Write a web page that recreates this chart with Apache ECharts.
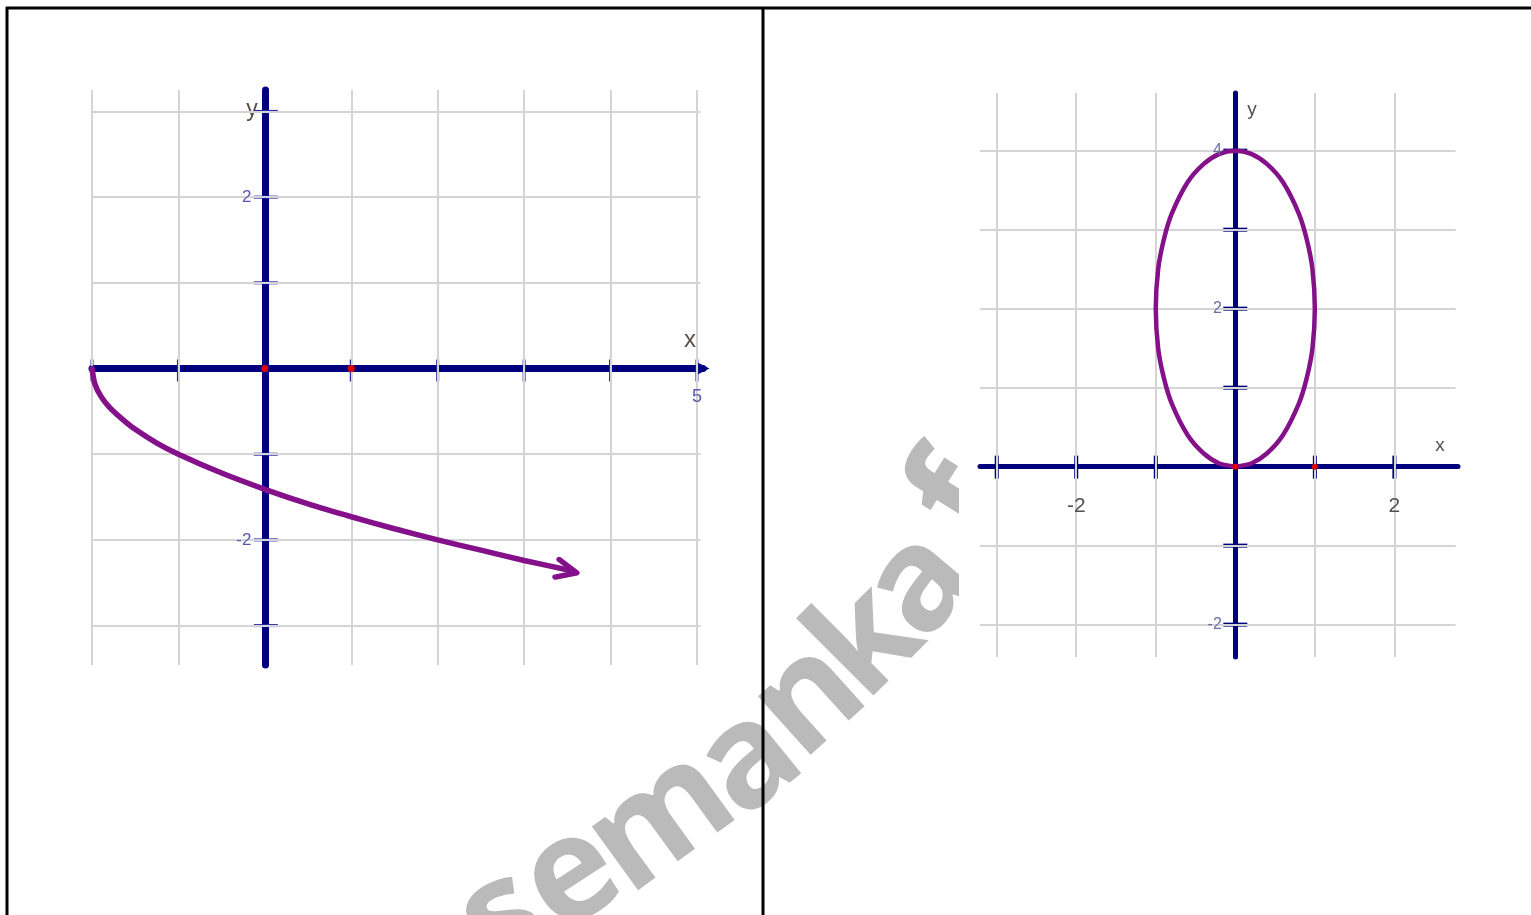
<!DOCTYPE html>
<html><head><meta charset="utf-8">
<script src="https://cdn.jsdelivr.net/npm/echarts@6/dist/echarts.min.js"></script>
<style>html,body{margin:0;padding:0;background:#fff;overflow:hidden}#c{width:1531px;height:915px}</style>
</head><body><div id="c"></div><script>
// ---------- Left chart: values ----------
const leftXGrid = [-2, -1, 1, 2, 3, 4, 5];
const leftYGrid = [-3, -2, -1, 1, 2, 3];
const leftXTicks = [-2, -1, 1, 2, 3, 4, 5];
const leftYTicks = [-3, -2, -1, 1, 2, 3];
const leftXLabels = [5];
const leftYLabels = [-2, 2];
const leftCurve = [
  [-2, 0], [-1.97, -0.17], [-1.9, -0.32], [-1.8, -0.45], [-1.65, -0.59], [-1.5, -0.71],
  [-1.25, -0.87], [-1, -1], [-0.5, -1.22], [0, -1.41], [0.5, -1.58], [1, -1.73],
  [1.5, -1.87], [2, -2], [2.5, -2.12], [3, -2.24], [3.55, -2.36]
];
const leftArrowTip = [[3.6, -2.37]];
const leftPoints = [[0, 0], [1, 0]];

// ---------- Right chart: values ----------
const rightXGrid = [-3, -2, -1, 1, 2];
const rightYGrid = [-2, -1, 1, 2, 3, 4];
const rightXTicks = [-3, -2, -1, 1, 2];
const rightYTicks = [-2, -1, 1, 2, 3, 4];
const rightXLabels = [-2, 2];
const rightYLabels = [-2, 2, 4];
const rightCurve = [
  [0, 0], [0.2, 0.04], [0.4, 0.17], [0.6, 0.4], [0.8, 0.8], [0.9, 1.13], [0.97, 1.5],
  [1, 2], [0.97, 2.5], [0.9, 2.87], [0.8, 3.2], [0.6, 3.6], [0.4, 3.83], [0.2, 3.96],
  [0, 4], [-0.2, 3.96], [-0.4, 3.83], [-0.6, 3.6], [-0.8, 3.2], [-0.9, 2.87], [-0.97, 2.5],
  [-1, 2], [-0.97, 1.5], [-0.9, 1.13], [-0.8, 0.8], [-0.6, 0.4], [-0.4, 0.17], [-0.2, 0.04], [0, 0]
];
const rightPoints = [[0, 0], [1, 0]];

// axis extents
const L = { xMin: -2, xMax: 5.07, yMin: -3.46, yMax: 3.25 };
const R = { xMin: -3.21, xMax: 2.8, yMin: -2.41, yMax: 4.73 };

const NAVY = '#00007f', PURPLE = '#84108a', GRID = '#d4d4d4';
const FONT = 'Liberation Sans, Arial, sans-serif';

function gridLines(xs, ys, r) {
  const d = [];
  xs.forEach(x => d.push([{ coord: [x, r.yMin] }, { coord: [x, r.yMax] }]));
  ys.forEach(y => d.push([{ coord: [r.xMin, y] }, { coord: [r.xMax - 0.03, y] }]));
  return d;
}

const chart = echarts.init(document.getElementById('c'), null, { renderer: 'canvas' });

function xAx(gi, r, lineW, arrow, name, nameOpt) {
  return {
    gridIndex: gi, type: 'value', min: r.xMin, max: r.xMax, z: 3,
    axisLine: { onZero: true, symbol: arrow ? ['none', 'triangle'] : ['none', 'none'], symbolSize: [13, 13],
      lineStyle: { color: NAVY, width: lineW } },
    axisTick: { show: false }, splitLine: { show: false }, axisLabel: { show: false },
    name: name, nameLocation: 'end', nameGap: nameOpt.gap, nameTextStyle: nameOpt.style
  };
}
function yAx(gi, r, lineW, name, nameOpt) {
  return {
    gridIndex: gi, type: 'value', min: r.yMin, max: r.yMax, z: 3,
    axisLine: { onZero: true, lineStyle: { color: NAVY, width: lineW, cap: 'round' } },
    axisTick: { show: false }, splitLine: { show: false }, axisLabel: { show: false },
    name: name, nameLocation: 'end', nameGap: nameOpt.gap, nameTextStyle: nameOpt.style
  };
}
function labelSeries(gi, data, pos, dist, color, size) {
  return { type: 'scatter', xAxisIndex: gi, yAxisIndex: gi, data: data, symbolSize: 1, z: 7, silent: true,
    itemStyle: { color: 'rgba(0,0,0,0)', opacity: 1 },
    label: { show: true, position: pos, distance: dist, color: color, fontSize: size, fontFamily: FONT, opacity: 1,
      formatter: p => String(pos === 'left' ? p.value[1] : p.value[0]) } };
}
// ticks crossing the axis, drawn with custom series at data positions
function tickSeries(gi, data, horizontal, before, after, width, color) {
  return { type: 'custom', xAxisIndex: gi, yAxisIndex: gi, data: data, z: 4, silent: true, clip: false,
    renderItem: function (params, api) {
      const p = api.coord([api.value(0), api.value(1)]);
      const shape = horizontal
        ? { x1: p[0] - before, y1: p[1], x2: p[0] + after, y2: p[1] }
        : { x1: p[0], y1: p[1] - before, x2: p[0], y2: p[1] + after };
      return { type: 'line', shape: shape, style: { stroke: color, lineWidth: width, opacity: 1 } };
    } };
}

// watermark letters (decoration)
const wm = [
  ['s', 503, 920, 30], ['e', 572, 878, 33], ['m', 662, 822, 36], ['a', 750, 762, 39],
  ['n', 810, 700, 42], ['k', 868, 643, 45], ['a', 921, 585, 50], ['f', 962, 500, 58]
];
const graphics = [];
wm.forEach(w => graphics.push({
  type: 'text', x: w[1], y: w[2], rotation: w[3] * Math.PI / 180, z: -10, silent: true,
  style: { text: w[0], fill: '#bababa', font: 'bold 144px "Open Sans", sans-serif', align: 'center', verticalAlign: 'middle' }
}));
graphics.push({ type: 'rect', z: -5, silent: true, shape: { x: 959, y: 40, width: 540, height: 660 }, style: { fill: '#ffffff' } });
graphics.push({ type: 'line', z: 10, silent: true, shape: { x1: 6, y1: 8, x2: 1531, y2: 8 }, style: { stroke: '#000', lineWidth: 3 } });
graphics.push({ type: 'line', z: 10, silent: true, shape: { x1: 7, y1: 7, x2: 7, y2: 915 }, style: { stroke: '#000', lineWidth: 3 } });
graphics.push({ type: 'line', z: 10, silent: true, shape: { x1: 763, y1: 7, x2: 763, y2: 915 }, style: { stroke: '#000', lineWidth: 3 } });

const option = {
  backgroundColor: '#ffffff',
  animation: false,
  graphic: { elements: graphics },
  grid: [
    { left: 92, top: 90, width: 611, height: 575, containLabel: false, outerBoundsMode: 'none' },
    { left: 980, top: 93, width: 478, height: 564, containLabel: false, outerBoundsMode: 'none' }
  ],
  xAxis: [
    xAx(0, L, 7, true, 'x',
      { gap: -13, style: { color: '#5a5048', fontSize: 24, align: 'center', verticalAlign: 'bottom', padding: [0, 0, 16, 0], fontFamily: FONT } }),
    xAx(1, R, 5, false, 'x',
      { gap: -18, style: { color: '#505050', fontSize: 19, align: 'center', verticalAlign: 'bottom', padding: [0, 0, 11, 0], fontFamily: FONT } })
  ],
  yAxis: [
    yAx(0, L, 7, 'y',
      { gap: -20, style: { color: '#5a5048', fontSize: 23, align: 'right', verticalAlign: 'middle', padding: [0, 7, 0, 0], fontFamily: FONT } }),
    yAx(1, R, 5, 'y',
      { gap: -17, style: { color: '#505050', fontSize: 19, align: 'left', verticalAlign: 'middle', padding: [0, 0, 0, 12], fontFamily: FONT } })
  ],
  series: [
    // grid lines
    { type: 'scatter', xAxisIndex: 0, yAxisIndex: 0, data: [[0, 0]], symbolSize: 0, z: 1, silent: true,
      markLine: { silent: true, symbol: ['none', 'none'], label: { show: false }, animation: false,
        lineStyle: { type: 'solid', color: GRID, width: 2, opacity: 1 }, emphasis: { disabled: true }, data: gridLines(leftXGrid, leftYGrid, L) } },
    { type: 'scatter', xAxisIndex: 1, yAxisIndex: 1, data: [[0, 0]], symbolSize: 0, z: 1, silent: true,
      markLine: { silent: true, symbol: ['none', 'none'], label: { show: false }, animation: false,
        lineStyle: { type: 'solid', color: GRID, width: 2, opacity: 1 }, emphasis: { disabled: true }, data: gridLines(rightXGrid, rightYGrid, R) } },
    // axis ticks (cross marks)
    tickSeries(0, leftYTicks.map(v => [0, v]), true, 11, 13, 3, '#2a2a9c'),
    tickSeries(0, leftXTicks.map(v => [v, 0]), false, 9, 13, 3, '#2a2a9c'),
    tickSeries(1, rightYTicks.map(v => [0, v]), true, 12, 12, 4, NAVY),
    tickSeries(1, rightXTicks.map(v => [v, 0]), false, 11, 12, 4, NAVY),
    // tick labels
    labelSeries(0, leftYLabels.map(v => [0, v]), 'left', 13, '#5858b0', 17),
    labelSeries(0, leftXLabels.map(v => [v, 0]), 'bottom', 19, '#5858b0', 18),
    labelSeries(1, rightYLabels.map(v => [0, v]), 'left', 13, '#6a70a8', 16),
    labelSeries(1, rightXLabels.map(v => [v, 0]), 'bottom', 29, '#505050', 21),
    // curves
    { type: 'line', xAxisIndex: 0, yAxisIndex: 0, data: leftCurve, showSymbol: false, smooth: 0.2, clip: false, z: 5, silent: true,
      lineStyle: { color: PURPLE, width: 5.5, cap: 'round', opacity: 1 } },
    { type: 'scatter', xAxisIndex: 0, yAxisIndex: 0, data: leftArrowTip, symbol: 'path://M0,0L22,9L0,18', symbolSize: [20, 18],
      symbolRotate: -13, symbolOffset: [-9, -1], z: 5, silent: true,
      itemStyle: { color: 'none', borderColor: PURPLE, borderWidth: 5.5, borderJoin: 'round', borderCap: 'round', opacity: 1 } },
    { type: 'line', xAxisIndex: 1, yAxisIndex: 1, data: rightCurve, showSymbol: false, smooth: 0.3, clip: false, z: 5, silent: true,
      lineStyle: { color: PURPLE, width: 4.5, cap: 'round', opacity: 1 } },
    // red points
    { type: 'scatter', xAxisIndex: 0, yAxisIndex: 0, data: leftPoints, symbolSize: 7, itemStyle: { color: '#e00000', opacity: 1 }, z: 6, silent: true },
    { type: 'scatter', xAxisIndex: 1, yAxisIndex: 1, data: rightPoints, symbolSize: 6, itemStyle: { color: '#e00000', opacity: 1 }, z: 6, silent: true }
  ]
};
chart.setOption(option);
</script></body></html>
